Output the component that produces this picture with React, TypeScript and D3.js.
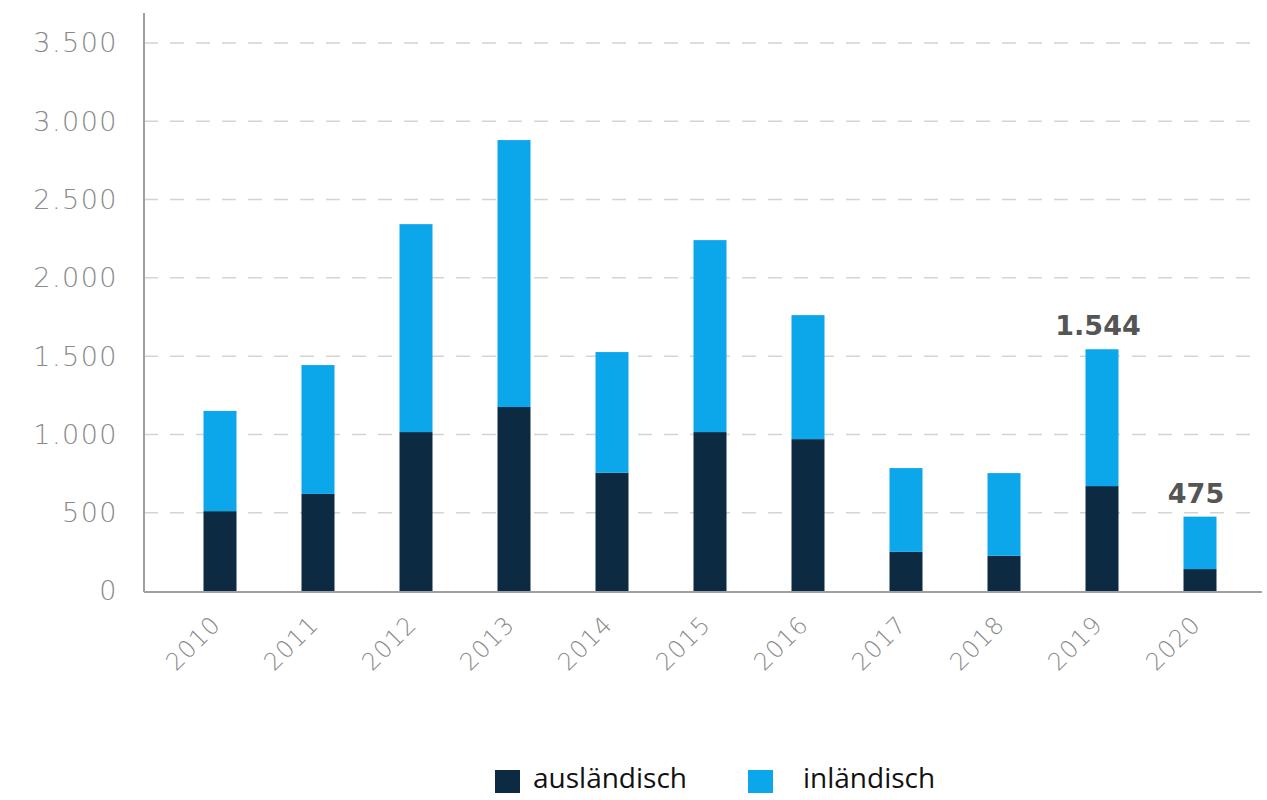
import React from "react";
import * as d3 from "d3";

const years = ["2010","2011","2012","2013","2014","2015","2016","2017","2018","2019","2020"];
const auslaendisch = [510, 620, 1015, 1175, 755, 1015, 970, 250, 225, 670, 140];
const inlaendisch = [640, 823, 1328, 1705, 771, 1226, 792, 535, 528, 874, 335];
const labelledYears = ["2019", "2020"];
const yTicks = [0, 500, 1000, 1500, 2000, 2500, 3000, 3500];
const seriesNames = ["ausländisch", "inländisch"];
const colors = ["#0c2b42", "#0ba7ea"];

const W = 1267, H = 800;
const x0 = 144, xEnd = 1262, yTop = 13, yZero = 591;

export default function App() {
  const x = d3.scaleBand<string>().domain(years).range([171, 1249]).paddingInner(0.66).paddingOuter(0.33);
  const y = d3.scaleLinear().domain([0, 3500]).range([yZero, 43]);
  const fmt = (v: number) => d3.format(",")(v).replace(/,/g, ".");
  const stackData = years.map((yr, i) => ({ year: yr, a: auslaendisch[i], b: inlaendisch[i] }));
  const stack = d3.stack<any>().keys(["a", "b"])(stackData);
  const bw = 33;

  return (
    <svg width={W} height={H} style={{ position: "absolute", left: 0, top: 0, background: "#fff" }}>
      {yTicks.filter(t => t > 0).map(t => (
        <line key={t} x1={x0} x2={xEnd} y1={y(t)} y2={y(t)} stroke="#d4d4d4" strokeWidth={1.5} strokeDasharray="14 12" />
      ))}
      {yTicks.map(t => (
        <text key={t} x={118} y={y(t)} dy="0.35em" textAnchor="end" fontFamily="DejaVu Sans" fontWeight={300} fontSize={27} letterSpacing={1.5} fill="#8a8a8a">{fmt(t)}</text>
      ))}
      {stack.map((s, si) => (
        <g key={si}>
          {s.map((d, i) => {
            const cx = (x(years[i]) as number) + x.bandwidth() / 2;
            return <rect key={i} x={cx - bw / 2} y={y(d[1])} width={bw} height={y(d[0]) - y(d[1])} fill={colors[si]} />;
          })}
        </g>
      ))}
      <line x1={x0} x2={x0} y1={yTop} y2={yZero + 1} stroke="#a0a0a0" strokeWidth={2} />
      <line x1={x0} x2={xEnd} y1={yZero + 1} y2={yZero + 1} stroke="#a0a0a0" strokeWidth={2} />
      {years.map(yr => {
        const cx = (x(yr) as number) + x.bandwidth() / 2;
        return (
          <text key={yr} transform={`translate(${cx - 4},${620}) rotate(-45)`} textAnchor="end" dy="0.35em" fontFamily="DejaVu Sans" fontWeight={300} fontSize={24} letterSpacing={1} fill="#8a8a8a">{yr}</text>
        );
      })}
      {years.map((yr, i) => {
        if (!labelledYears.includes(yr)) return null;
        const cx = (x(yr) as number) + x.bandwidth() / 2;
        const tot = auslaendisch[i] + inlaendisch[i];
        return <text key={yr} x={cx - 4} y={y(tot) - 14} textAnchor="middle" fontFamily="DejaVu Sans" fontWeight="bold" fontSize={27} fill="#555">{fmt(tot)}</text>;
      })}
      <rect x={495} y={770} width={25} height={23} fill={colors[0]} />
      <text x={533} y={788} fontFamily="Open Sans" fontSize={28} fill="#111">{seriesNames[0]}</text>
      <rect x={748} y={770} width={25} height={23} fill={colors[1]} />
      <text x={803} y={788} fontFamily="Open Sans" fontSize={28} fill="#111">{seriesNames[1]}</text>
    </svg>
  );
}
